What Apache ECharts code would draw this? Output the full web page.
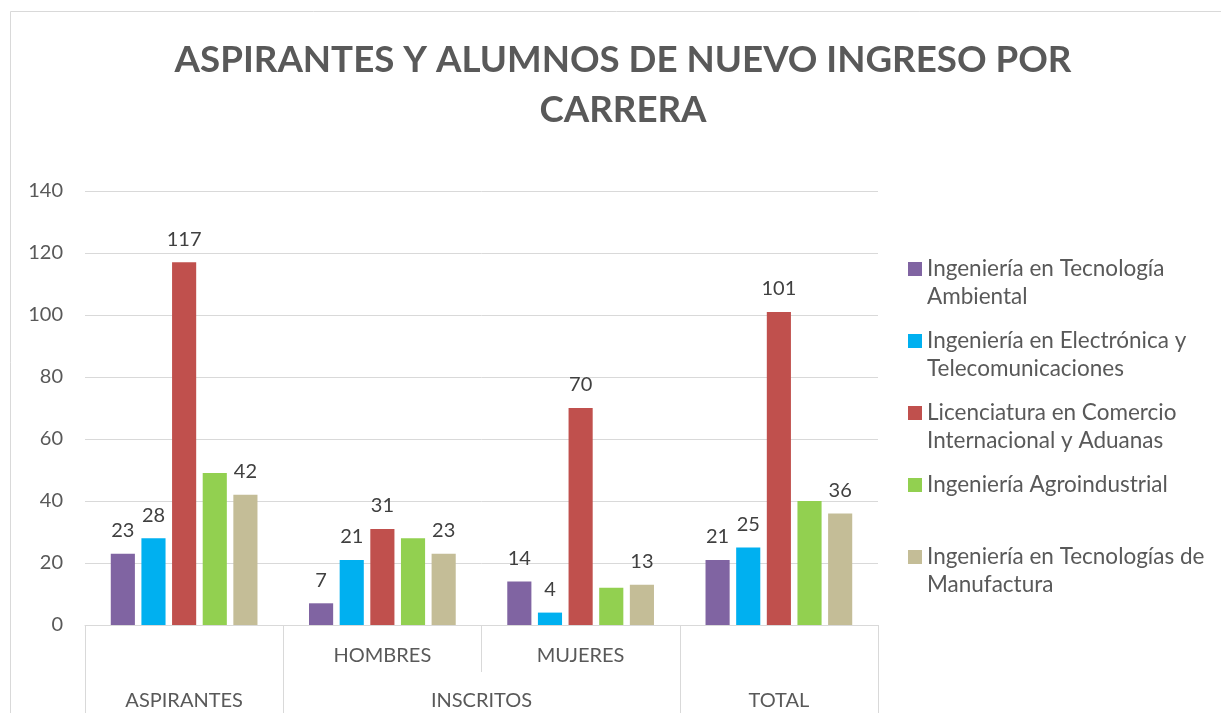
<!DOCTYPE html>
<html>
<head>
<meta charset="utf-8">
<script src="https://cdn.jsdelivr.net/npm/echarts@6/dist/echarts.min.js"></script>
<style>
    html, body { margin: 0; padding: 0; background: #fff; }
    #main { width: 1221px; height: 713px; }
</style>
</head>
<body>
<div id="main"></div>
<script>
// categories of the first axis row, and the groups of the second row
var categories = ['ASPIRANTES', 'HOMBRES', 'MUJERES', 'TOTAL'];
var subLabels = ['', 'HOMBRES', 'MUJERES', ''];
var groups = ['ASPIRANTES', 'INSCRITOS', 'TOTAL'];
var groupSpans = [1, 2, 1];

var seriesNames = [
    'Ingeniería en Tecnología Ambiental',
    'Ingeniería en Electrónica y Telecomunicaciones',
    'Licenciatura en Comercio Internacional y Aduanas',
    'Ingeniería Agroindustrial',
    'Ingeniería en Tecnologías de Manufactura'
];
var legendLabels = [
    'Ingeniería en Tecnología\nAmbiental',
    'Ingeniería en Electrónica y\nTelecomunicaciones',
    'Licenciatura en Comercio\nInternacional y Aduanas',
    'Ingeniería Agroindustrial\n ',
    'Ingeniería en Tecnologías de\nManufactura'
];
var colors = ['#8064A2', '#00B0F0', '#C0504D', '#92D050', '#C4BD97'];

var ambiental = [23, 7, 14, 21];
var electronica = [28, 21, 4, 25];
var comercio = [117, 31, 70, 101];
var agroindustrial = [49, 28, 12, 40];
var manufactura = [42, 23, 13, 36];
var seriesData = [ambiental, electronica, comercio, agroindustrial, manufactura];
var showLabels = [true, true, true, false, true];

var yMin = 0, yMax = 140, yStep = 20;

// edges and centres of the second-row groups, in category units
var groupEdges = [0], groupCenters = [];
var acc = 0;
groupSpans.forEach(function (s) {
    groupCenters.push(acc + s / 2);
    acc += s;
    groupEdges.push(acc);
});

var font = 'Lato, "Open Sans", sans-serif';
var gridColor = '#d9d9d9';
var textColor = '#595959';

var chart = echarts.init(document.getElementById('main'));

chart.setOption({
    animation: false,
    backgroundColor: '#fff',
    textStyle: { fontFamily: font },
    color: colors,
    title: {
        text: 'ASPIRANTES Y ALUMNOS DE NUEVO INGRESO POR\nCARRERA',
        left: 623,
        textAlign: 'center',
        top: 35,
        padding: 0,
        textStyle: {
            fontFamily: font,
            fontSize: 36.7,
            fontWeight: 'bold',
            color: textColor,
            lineHeight: 50
        }
    },
    graphic: [{
        type: 'rect',
        shape: { x: 10.5, y: 11.5, width: 1300, height: 900 },
        style: { fill: null, stroke: gridColor, lineWidth: 1 },
        silent: true
    }],
    legend: {
        orient: 'vertical',
        left: 908,
        top: 255,
        padding: 0,
        itemWidth: 14,
        itemHeight: 56,
        itemGap: 16,
        icon: 'path://M0,0h0.01M0,7h14v14h-14zM0,56h0.01',
        data: seriesNames,
        formatter: function (name) {
            return legendLabels[seriesNames.indexOf(name)];
        },
        textStyle: {
            fontFamily: font,
            fontSize: 22.5,
            lineHeight: 28,
            color: textColor
        }
    },
    grid: {
        left: 85,
        right: 343,
        top: 191,
        bottom: 88,
        outerBoundsMode: 'none'
    },
    xAxis: [{
        type: 'category',
        data: categories,
        position: 'bottom',
        axisLine: { lineStyle: { color: gridColor } },
        axisTick: { show: true, interval: 0, length: 47, lineStyle: { color: gridColor } },
        axisLabel: {
            interval: 0,
            margin: 21,
            fontFamily: font,
            fontSize: 20,
            color: textColor,
            formatter: function (v, i) { return subLabels[i]; }
        }
    }, {
        type: 'value',
        min: 0,
        max: categories.length,
        position: 'bottom',
        axisLine: { show: false },
        splitLine: { show: false },
        axisTick: {
            show: true,
            customValues: groupEdges,
            length: 100,
            lineStyle: { color: gridColor }
        },
        axisLabel: {
            customValues: groupCenters,
            margin: 66,
            fontFamily: font,
            fontSize: 20,
            color: textColor,
            formatter: function (v) { return groups[groupCenters.indexOf(v)] || ''; }
        }
    }],
    yAxis: {
        type: 'value',
        min: yMin,
        max: yMax,
        interval: yStep,
        axisLine: { show: false },
        axisTick: { show: false },
        splitLine: { lineStyle: { color: gridColor, width: 1 } },
        axisLabel: {
            margin: 22,
            fontFamily: font,
            fontSize: 20,
            color: textColor
        }
    },
    series: seriesNames.map(function (name, i) {
        return {
            name: name,
            type: 'bar',
            xAxisIndex: 0,
            data: seriesData[i],
            barGap: '27%',
            barCategoryGap: '26%',
            itemStyle: { color: colors[i] },
            label: {
                show: showLabels[i],
                position: 'top',
                distance: 13,
                fontFamily: font,
                fontSize: 20,
                color: '#404040'
            }
        };
    })
});
</script>
</body>
</html>
